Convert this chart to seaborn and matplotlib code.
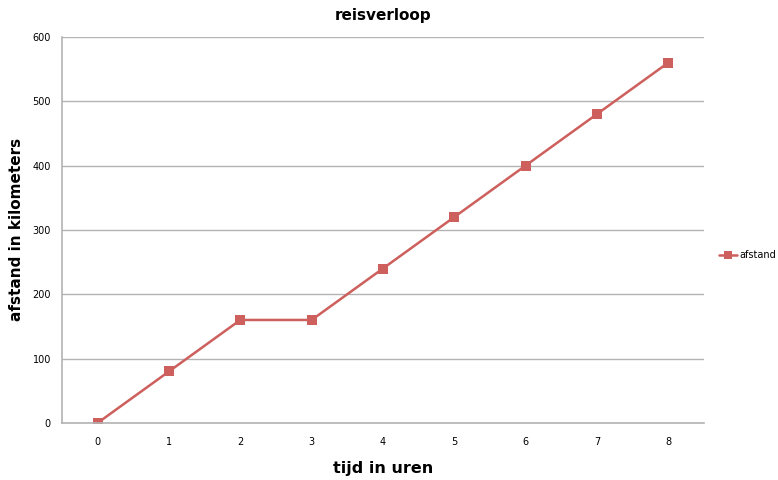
import matplotlib
matplotlib.use("Agg")
import matplotlib.pyplot as plt
import numpy as np
import pandas as pd
import seaborn as sns

hours = [0, 1, 2, 3, 4, 5, 6, 7, 8]
distance = [0, 80, 160, 160, 240, 320, 400, 480, 560]
y_ticks = [0, 100, 200, 300, 400, 500, 600]

RED = "#CD5F5C"
GRID = "#B3B3B3"

sns.set_style("white")
plt.rcParams["font.family"] = ["DejaVu Sans"]
plt.rcParams["text.color"] = "black"
plt.rcParams["axes.labelcolor"] = "black"
plt.rcParams["xtick.labelcolor"] = "black"
plt.rcParams["ytick.labelcolor"] = "black"

df = pd.DataFrame({"tijd": hours, "afstand": distance})

fig = plt.figure(figsize=(7.78, 4.8), dpi=100)
ax = fig.add_axes([0.0797, 0.119, 0.825, 0.804])

sns.lineplot(data=df, x="tijd", y="afstand", ax=ax, color=RED, linewidth=1.8,
             marker="s", markersize=6.5, markeredgewidth=0, label="afstand")

ax.set_xlim(-0.5, len(hours) - 0.5)
ax.set_ylim(0, 600)
ax.set_yticks(y_ticks)
ax.set_xticks(hours)
ax.set_xticklabels([str(h) for h in hours])
ax.set_xticks(np.arange(-0.5, len(hours), 1.0), minor=True)
ax.tick_params(axis="x", which="major", length=0, labelsize=7, pad=10)
ax.tick_params(axis="x", which="minor", length=4, color=GRID, width=1, direction="out")
ax.tick_params(axis="y", length=4, color=GRID, width=1, labelsize=7, direction="out", pad=4)
ax.grid(axis="y", color=GRID, linewidth=1)
ax.set_axisbelow(True)

for side in ["top", "right"]:
    ax.spines[side].set_visible(False)
for side in ["left", "bottom"]:
    ax.spines[side].set_color(GRID)
    ax.spines[side].set_linewidth(1.2)

ax.set_title("reisverloop", fontsize=11, fontweight="bold", pad=12)
ax.set_xlabel("tijd in uren", fontsize=11.5, fontweight="bold", labelpad=10)
ax.set_ylabel("afstand in kilometers", fontsize=11, fontweight="bold", labelpad=6)

ax.legend(loc="center left", bbox_to_anchor=(1.01, 0.435), frameon=False,
          fontsize=7, handlelength=1.8, handletextpad=0.3, markerscale=0.8)

fig.savefig("out.png", dpi=100)
